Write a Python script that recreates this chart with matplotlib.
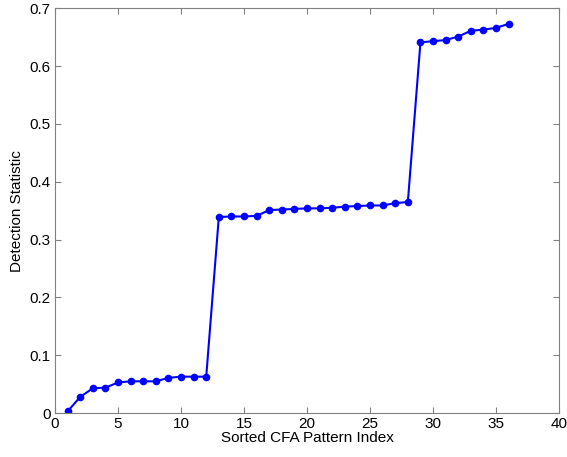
import numpy as np
import matplotlib
matplotlib.use('Agg')
import matplotlib.pyplot as plt

plt.rcParams['font.family'] = ['Liberation Sans', 'DejaVu Sans']

# sorted detection statistic per CFA pattern
pattern_idx = np.arange(1, 37)
detection = [0.003, 0.028, 0.043, 0.044, 0.053, 0.055, 0.055, 0.055, 0.061,
             0.063, 0.063, 0.063,
             0.339, 0.340, 0.340, 0.341, 0.351, 0.352, 0.353, 0.354, 0.354,
             0.355, 0.357, 0.358, 0.359, 0.359, 0.363, 0.365,
             0.641, 0.643, 0.645, 0.651, 0.661, 0.663, 0.666, 0.673]

fig = plt.figure(figsize=(5.67, 4.57), dpi=100)
ax = fig.add_axes([0.097, 0.096, 0.889, 0.886])

ax.plot(pattern_idx, detection, color='#0000ff', linewidth=1.5,
        marker='o', markersize=4.5)

ax.set_xlim(0, 40)
ax.set_ylim(0, 0.7)
ax.set_xticks(np.arange(0, 41, 5))
ax.set_yticks(np.arange(0, 0.71, 0.1))
ax.set_yticklabels(['0', '0.1', '0.2', '0.3', '0.4', '0.5', '0.6', '0.7'])
ax.tick_params(direction='in', top=True, right=True, labelsize=11, length=4,
               color='#808080', pad=3)
for s in ax.spines.values():
    s.set_color('#808080')

ax.set_xlabel('Sorted CFA Pattern Index', fontsize=11, labelpad=0)
ax.set_ylabel('Detection Statistic', fontsize=11, labelpad=4)

plt.savefig('out.png', dpi=100)
